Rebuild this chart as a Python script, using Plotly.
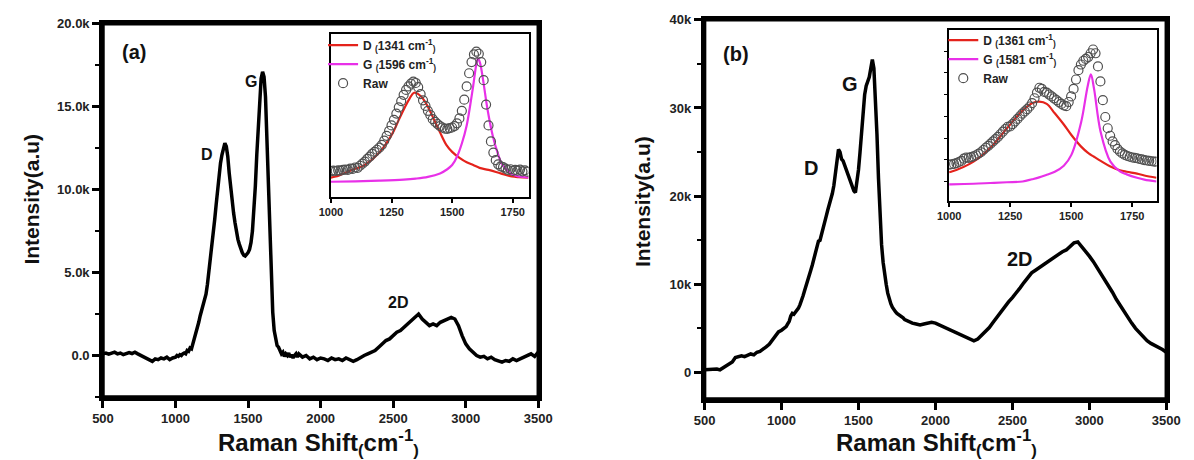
import plotly.graph_objects as go

# ---------------- data ----------------
# wavenumber sampling grids (cm-1)
shift_low = list(range(500, 1000, 20))     # 25 samples
shift_mid = list(range(1000, 1850, 10))    # 85 samples
shift_high = list(range(1850, 3501, 25))   # 67 samples

# (a) spectrum
int_a_low = [100, 150, 80, 120, 200, 100, 150, 50, 100, 180, 120, 200, 100, 0, -100,
             -200, -300, -350, -200, -250, -150, -200, -100, -250, -150]
int_a_mid = [-100, 0, -50, 50, 0, 100, 150, 100, 300, 250,
             450, 400, 700, 1000, 1300, 1700, 2000, 2400, 2700, 3000,
             3300, 3700, 4300, 5000, 5700, 6500, 7300, 8200, 9100, 10000,
             10900, 11600, 12100, 12500, 12800, 12600, 12000, 11000, 10100, 9300,
             8600, 8000, 7400, 7000, 6700, 6400, 6200, 6050, 6000, 6100,
             6200, 6400, 6800, 7500, 8600, 10200, 12100, 14000, 15600, 16700,
             17100, 16800, 15600, 13000, 9500, 6500, 4200, 2600, 1500, 900,
             600, 500, 300, 100, 200, -50, 100, 0, 150, -100,
             50, -150, 0, 100, -100]
int_a_high = [100, -100, 0, -200, -100, -250, -150, -200, -300, -150,
              -250, -200, -300, -150, -250, -350, -250, -100, 0, 100,
              200, 300, 500, 700, 900, 1000, 1200, 1400, 1500, 1700,
              1900, 2100, 2300, 2500, 2200, 2000, 1800, 1900, 1800, 2000,
              2100, 2200, 2300, 2200, 1800, 1200, 700, 400, 200, 0,
              -100, -50, -200, -100, -250, -300, -400, -300, -350, -200,
              -300, -200, -100, 0, 100, -50, 200]

# (b) spectrum
int_b_low = [300, 350, 400, 450, 400, 300, 500, 700, 900, 1200, 1700, 1800, 1900,
             1800, 2000, 2100, 2000, 2300, 2400, 2600, 2900, 3200, 3700, 4200, 4600]
int_b_mid = [4800, 4900, 5000, 5200, 5500, 5800, 6400, 6700, 6600, 6800,
             7000, 7300, 7700, 8100, 8700, 9300, 9800, 10400, 11000, 11600,
             12200, 12900, 13600, 14300, 14900, 15000, 15600, 16300, 17000, 17700,
             18400, 19000, 19600, 20300, 21200, 22500, 24000, 25300, 25000, 24200,
             24000, 23500, 23000, 22500, 22000, 21500, 21000, 20600, 20400, 21500,
             23000, 25000, 27500, 30000, 31500, 32500, 33000, 33500, 34500, 35500,
             34500, 31000, 27000, 22000, 17500, 14500, 12500, 11000, 10000, 9000,
             8300, 7800, 7400, 7100, 6900, 6700, 6600, 6500, 6300, 6200,
             6000, 5900, 5800, 5700, 5600]
int_b_high = [5600, 5500, 5400, 5500, 5600, 5700, 5600, 5400, 5200, 4900,
              4700, 4500, 4400, 4200, 4000, 3800, 3600, 3800, 4200, 4600,
              5100, 5700, 6300, 6900, 7500, 8000, 8500, 9000, 9600, 10200,
              10800, 11300, 11600, 11900, 12200, 12600, 12900, 13200, 13400, 13700,
              13900, 14300, 14700, 14800, 14300, 13700, 13200, 12600, 11900, 11200,
              10600, 9900, 9100, 8300, 7600, 6900, 6200, 5600, 5000, 4500,
              4000, 3600, 3300, 3100, 2900, 2600, 2300]

# inset fits (a)
fit_a_D_x = [1000, 1020, 1080, 1141, 1200, 1250, 1280, 1302, 1325, 1343, 1371, 1400, 1423,
             1450, 1476, 1500, 1532, 1560, 1587, 1613, 1650, 1700, 1746, 1775, 1815]
fit_a_D = [-1000, -850, 0, 850, 2600, 5100, 7300, 8900, 10400, 11200, 10700, 9200, 7500,
           5500, 3700, 2700, 1800, 1200, 800, 400, 100, -400, -850, -950, -1000]
fit_a_G_x = [1000, 1100, 1200, 1300, 1350, 1400, 1450, 1480, 1500, 1520, 1540, 1560, 1575,
             1587, 1600, 1607, 1615, 1627, 1645, 1667, 1690, 1707, 1746, 1775, 1815]
fit_a_G = [-1600, -1550, -1450, -1300, -1150, -900, -400, 200, 800, 2000, 3900, 6500, 9500,
           12200, 15300, 16100, 15500, 13200, 9000, 5100, 2300, 850, -500, -850, -1000]

# inset fits (b)
fit_b_x = [1000, 1008, 1100, 1169, 1237, 1301, 1340, 1369, 1400, 1433, 1470, 1501, 1541,
           1568, 1581, 1594, 1621, 1661, 1700, 1728, 1770, 1800, 1850]
fit_b_D = [2800, 2900, 5600, 9300, 14500, 19200, 21200, 21600, 21000, 18500, 15500, 12700, 9600,
           8000, 7400, 6900, 5800, 4300, 3300, 2900, 2400, 1900, 1300]
fit_b_G = [-450, -450, -300, -100, 100, 300, 900, 1400, 2100, 2900, 4500, 7400, 16100,
           25800, 28900, 25000, 13500, 5600, 3000, 2200, 1300, 800, 300]

label_D_a = "D <sub>(</sub>1341 cm<sup>-1</sup><sub>)</sub>"
label_G_a = "G <sub>(</sub>1596 cm<sup>-1</sup><sub>)</sub>"
label_D_b = "D <sub>(</sub>1361 cm<sup>-1</sup><sub>)</sub>"
label_G_b = "G <sub>(</sub>1581 cm<sup>-1</sup><sub>)</sub>"

ytick_a_vals = [0, 5000, 10000, 15000, 20000]
ytick_a_text = ["0.0", "5.0k", "10.0k", "15.0k", "20.0k"]
ytick_b_vals = [0, 10000, 20000, 30000, 40000]
ytick_b_text = ["0", "10k", "20k", "30k", "40k"]
xtick_vals = [500, 1000, 1500, 2000, 2500, 3000, 3500]
inset_xticks = [1000, 1250, 1500, 1750]

# ---------------- build ----------------
shift = shift_low + shift_mid + shift_high
int_a = int_a_low + int_a_mid + int_a_high
int_b = int_b_low + int_b_mid + int_b_high
assert len(shift) == len(int_a) == len(int_b)

raw_a_x = [s for s in shift if 1000 <= s <= 1815]
raw_a_y = [v for s, v in zip(shift, int_a) if 1000 <= s <= 1815]
raw_b_x = [s for s in shift if 1000 <= s <= 1850]
raw_b_y = [v for s, v in zip(shift, int_b) if 1000 <= s <= 1850]

W, H = 1194, 460
FONT = "Arial, Liberation Sans, sans-serif"
RED = "#e4221b"
MAG = "#e830e8"

def px_x(p):
    return p / W

def px_y(p):
    return 1 - p / H

fig = go.Figure()

fig.add_trace(go.Scatter(x=shift, y=int_a, mode="lines", line=dict(color="black", width=3.5),
                         xaxis="x", yaxis="y", showlegend=False))
fig.add_trace(go.Scatter(x=shift, y=int_b, mode="lines", line=dict(color="black", width=3.5),
                         xaxis="x2", yaxis="y2", showlegend=False))

raw_marker = dict(symbol="circle-open", size=9, color="#505050", line=dict(width=1.2))
# inset a
fig.add_trace(go.Scatter(x=fit_a_D_x, y=fit_a_D, mode="lines", line=dict(color=RED, width=2.2, shape="spline"),
                         xaxis="x3", yaxis="y3", name=label_D_a, legend="legend"))
fig.add_trace(go.Scatter(x=fit_a_G_x, y=fit_a_G, mode="lines", line=dict(color=MAG, width=2.2, shape="spline"),
                         xaxis="x3", yaxis="y3", name=label_G_a, legend="legend"))
fig.add_trace(go.Scatter(x=raw_a_x, y=raw_a_y, mode="markers", marker=raw_marker,
                         xaxis="x3", yaxis="y3", name="Raw", legend="legend"))
# inset b
fig.add_trace(go.Scatter(x=fit_b_x, y=fit_b_D, mode="lines", line=dict(color=RED, width=2.2, shape="spline"),
                         xaxis="x4", yaxis="y4", name=label_D_b, legend="legend2"))
fig.add_trace(go.Scatter(x=fit_b_x, y=fit_b_G, mode="lines", line=dict(color=MAG, width=2.2, shape="spline"),
                         xaxis="x4", yaxis="y4", name=label_G_b, legend="legend2"))
fig.add_trace(go.Scatter(x=raw_b_x, y=raw_b_y, mode="markers", marker=raw_marker,
                         xaxis="x4", yaxis="y4", name="Raw", legend="legend2"))

tickfont_main = dict(family=FONT, size=13, color="#222", weight="bold")
tickfont_inset = dict(family=FONT, size=11, color="#222", weight="bold")

main_x = dict(range=[500, 3500], tickvals=xtick_vals, ticks="outside", ticklen=7, tickwidth=3,
              tickcolor="#000000",
              showline=True, linewidth=3.5, linecolor="#000000", mirror=True, showgrid=False,
              zeroline=False, tickfont=tickfont_main)
main_y = dict(ticks="outside", ticklen=7, tickwidth=3, tickcolor="#000000", showline=True,
              linewidth=3.5, linecolor="#000000", mirror=True, showgrid=False, zeroline=False,
              tickfont=tickfont_main)
inset_x = dict(tickvals=inset_xticks, ticks="outside", ticklen=4, tickwidth=1.8, tickcolor="#000000",
               showline=True, linewidth=2, linecolor="#000000", mirror=True, showgrid=False,
               zeroline=False, tickfont=tickfont_inset)
inset_y = dict(showticklabels=False, showline=True, linewidth=2, linecolor="#000000", mirror=True,
               showgrid=False, zeroline=False)

legend_font = dict(family=FONT, size=12, color="#222", weight="bold")

fig.update_layout(
    width=W, height=H,
    margin=dict(l=0, r=0, t=0, b=0),
    paper_bgcolor="white", plot_bgcolor="white",
    xaxis=dict(main_x, domain=[px_x(93), px_x(538)], anchor="y"),
    yaxis=dict(main_y, domain=[px_y(396), px_y(17)], anchor="x", range=[-2500, 20000],
               tickvals=ytick_a_vals, ticktext=ytick_a_text,
               minor=dict(tickvals=[-2500, 2500, 7500, 12500, 17500], ticks="outside", ticklen=4,
                          tickwidth=2, tickcolor="#000000")),
    xaxis2=dict(main_x, domain=[px_x(708), px_x(1180)], anchor="y2"),
    yaxis2=dict(main_y, domain=[px_y(398), px_y(13)], anchor="x2", range=[-3000, 40000],
                tickvals=ytick_b_vals, ticktext=ytick_b_text,
                minor=dict(tickvals=[5000, 15000, 25000, 35000], ticks="outside", ticklen=4,
                           tickwidth=2, tickcolor="#000000")),
    xaxis3=dict(inset_x, domain=[px_x(326), px_x(528)], anchor="y3", range=[1000, 1815]),
    yaxis3=dict(inset_y, domain=[px_y(193), px_y(27)], anchor="x3", range=[-3800, 19700]),
    xaxis4=dict(inset_x, domain=[px_x(958), px_x(1170)], anchor="y4", range=[1000, 1850]),
    yaxis4=dict(inset_y, domain=[px_y(197), px_y(23)], anchor="x4", range=[-4900, 40800],
                tickvals=[300, 6100, 11900, 17700, 23500, 29300, 35100], ticks="outside",
                ticklen=3, tickwidth=1.2, tickcolor="#000000"),
    legend=dict(x=px_x(318), y=px_y(24), xanchor="left", yanchor="top", bgcolor="rgba(0,0,0,0)",
                font=legend_font, itemwidth=30, tracegroupgap=0),
    legend2=dict(x=px_x(952), y=px_y(19), xanchor="left", yanchor="top", bgcolor="rgba(0,0,0,0)",
                 font=legend_font, itemwidth=30, tracegroupgap=0),
)

# heavy frames around the two main panels
for xr, yr in (("x domain", "y domain"), ("x2 domain", "y2 domain")):
    fig.add_shape(type="rect", xref=xr, yref=yr, x0=0, x1=1, y0=0, y1=1,
                  line=dict(color="#000000", width=3.5), fillcolor="rgba(0,0,0,0)", layer="above")

def txt(x, y, s, size, angle=0):
    fig.add_annotation(x=px_x(x), y=px_y(y), xref="paper", yref="paper", text=s, showarrow=False,
                       textangle=angle,
                       font=dict(family=FONT, size=size, color="#111", weight="bold"),
                       xanchor="center", yanchor="middle")

txt(125, 46, "(a)", 20)
txt(199, 150, "D", 16)
txt(244, 76, "G", 16)
txt(395, 300, "2D", 16)
txt(740, 48, "(b)", 20)
txt(817, 163, "D", 20)
txt(857, 78, "G", 20)
txt(1030, 256, "2D", 20)

xtitle = "Raman Shift<sub>(</sub>cm<sup>-1</sup><sub>)</sub>"
txt(313, 443, xtitle, 24)
txt(945, 443, xtitle, 24)
txt(19, 195, "Intensity(a.u)", 21, -90)
txt(644, 197, "Intensity(a.u)", 21, -90)

fig.write_html("out.html")
